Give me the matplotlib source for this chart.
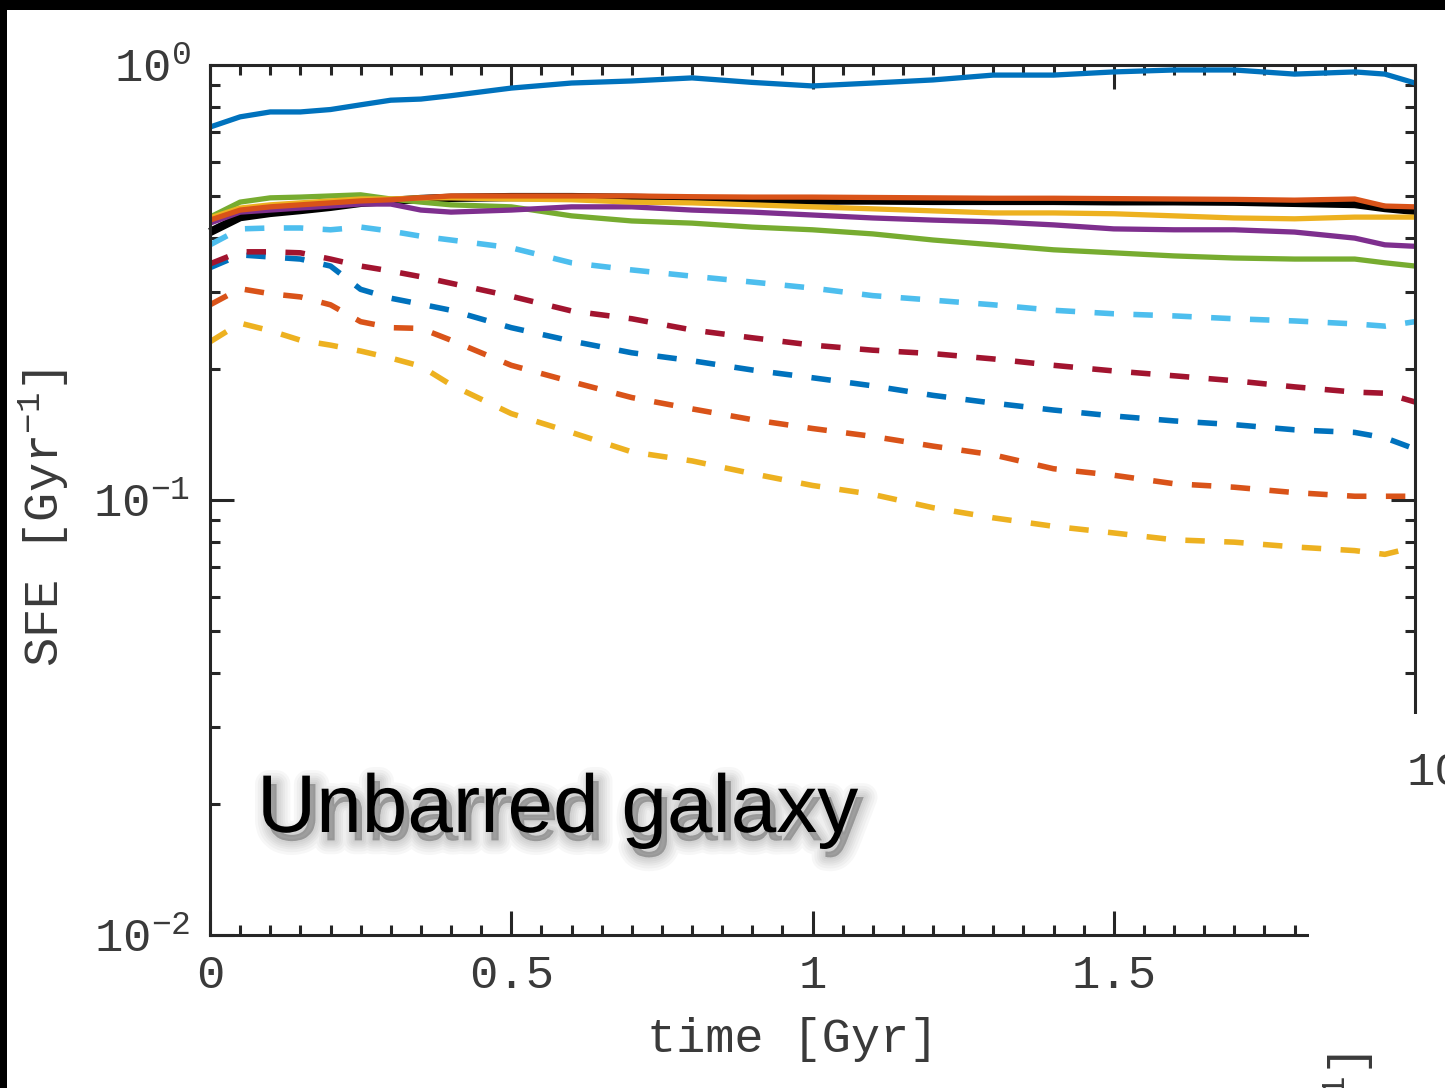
import matplotlib
matplotlib.use("Agg")
import matplotlib.pyplot as plt
import matplotlib.patheffects as pe
from matplotlib.patches import Rectangle
from matplotlib.ticker import MultipleLocator, LogLocator, NullFormatter

plt.rcParams['font.family'] = ['Liberation Mono', 'DejaVu Sans Mono']
plt.rcParams['mathtext.fontset'] = 'custom'
plt.rcParams['mathtext.rm'] = 'Liberation Mono'
plt.rcParams['mathtext.it'] = 'Liberation Mono'
plt.rcParams['axes.unicode_minus'] = False

# time axis [Gyr]
t = [0, 0.05, 0.1, 0.15, 0.2, 0.25, 0.3, 0.35, 0.4, 0.5, 0.6, 0.7, 0.8,
     0.9, 1.0, 1.1, 1.2, 1.3, 1.4, 1.5, 1.6, 1.7, 1.8, 1.9, 1.95, 2.0]

# SFE [1/Gyr], solid curves
sfe_blue = [0.72, 0.76, 0.78, 0.78, 0.79, 0.81, 0.83, 0.835, 0.85, 0.885, 0.909, 0.919, 0.934,
            0.912, 0.895, 0.909, 0.924, 0.948, 0.948, 0.964, 0.974, 0.974, 0.953, 0.964, 0.953, 0.909]
sfe_black = [0.413, 0.447, 0.457, 0.464, 0.472, 0.482, 0.487, 0.492, 0.495, 0.497, 0.497, 0.495, 0.492,
             0.49, 0.488, 0.488, 0.487, 0.487, 0.487, 0.486, 0.486, 0.485, 0.482, 0.479, 0.469, 0.462]
sfe_orange = [0.44, 0.464, 0.472, 0.477, 0.482, 0.487, 0.49, 0.495, 0.50, 0.50, 0.50, 0.50, 0.498,
              0.497, 0.497, 0.496, 0.495, 0.494, 0.494, 0.493, 0.492, 0.491, 0.489, 0.492, 0.474, 0.472]
sfe_yellow = [0.445, 0.469, 0.477, 0.482, 0.487, 0.492, 0.492, 0.495, 0.495, 0.492, 0.49, 0.484, 0.482,
              0.477, 0.472, 0.467, 0.462, 0.457, 0.457, 0.455, 0.45, 0.445, 0.443, 0.447, 0.447, 0.447]
sfe_purple = [0.433, 0.459, 0.464, 0.469, 0.474, 0.479, 0.479, 0.464, 0.459, 0.464, 0.472, 0.472, 0.464,
              0.459, 0.452, 0.445, 0.44, 0.436, 0.429, 0.42, 0.418, 0.418, 0.413, 0.40, 0.386, 0.383]
sfe_green = [0.447, 0.484, 0.495, 0.497, 0.50, 0.503, 0.492, 0.484, 0.477, 0.472, 0.45, 0.438, 0.433,
             0.424, 0.418, 0.409, 0.396, 0.386, 0.376, 0.37, 0.364, 0.36, 0.358, 0.358, 0.351, 0.345]

# SFE [1/Gyr], dashed curves
sfe_cyan_d = [0.386, 0.42, 0.422, 0.422, 0.418, 0.424, 0.415, 0.404, 0.396, 0.38, 0.351, 0.338, 0.327,
              0.317, 0.307, 0.295, 0.288, 0.281, 0.273, 0.268, 0.265, 0.261, 0.258, 0.254, 0.251, 0.257]
sfe_red_d = [0.349, 0.372, 0.372, 0.37, 0.358, 0.345, 0.336, 0.326, 0.315, 0.294, 0.272, 0.261, 0.246,
             0.236, 0.227, 0.221, 0.217, 0.211, 0.204, 0.198, 0.193, 0.188, 0.182, 0.177, 0.176, 0.168]
sfe_blue_d = [0.342, 0.366, 0.362, 0.358, 0.345, 0.305, 0.291, 0.282, 0.273, 0.249, 0.232, 0.218, 0.209,
              0.199, 0.191, 0.183, 0.174, 0.167, 0.161, 0.156, 0.152, 0.149, 0.145, 0.143, 0.139, 0.131]
sfe_orange_d = [0.281, 0.306, 0.298, 0.293, 0.281, 0.257, 0.249, 0.248, 0.233, 0.204, 0.187, 0.172, 0.162,
                0.153, 0.146, 0.14, 0.133, 0.127, 0.118, 0.114, 0.109, 0.107, 0.104, 0.102, 0.102, 0.102]
sfe_yellow_d = [0.231, 0.255, 0.245, 0.233, 0.227, 0.22, 0.212, 0.203, 0.184, 0.158, 0.143, 0.129, 0.123,
                0.115, 0.108, 0.103, 0.096, 0.091, 0.087, 0.084, 0.081, 0.080, 0.078, 0.0765, 0.075, 0.078]

W, H = 1445, 1088
fig = plt.figure(figsize=(W / 100, H / 100), dpi=100)
fig.patch.set_facecolor('white')

def fx(px):
    return px / W

def fy(py):
    return 1 - py / H

ax = fig.add_axes([fx(210), fy(935), fx(1415) - fx(210), fy(65) - fy(935)])

axcol = '#262626'
txtcol = '#3a3a3a'

dash = (0, (3.5, 3.5))
for vals, col in [(sfe_yellow_d, '#EDB120'), (sfe_orange_d, '#D95319'), (sfe_blue_d, '#0072BD'),
                  (sfe_red_d, '#A2142F'), (sfe_cyan_d, '#4DBEEE')]:
    ax.plot(t, vals, color=col, lw=4.0, ls=dash, dash_capstyle='butt')

ax.plot(t, sfe_black, color='black', lw=6.0, clip_on=False, solid_capstyle='butt')
for vals, col in [(sfe_green, '#77AC30'), (sfe_purple, '#7E2F8E'), (sfe_yellow, '#EDB120'),
                  (sfe_orange, '#D95319'), (sfe_blue, '#0072BD')]:
    ax.plot(t, vals, color=col, lw=3.8)

ax.set_yscale('log')
ax.set_xlim(0, 2)
ax.set_ylim(0.01, 1)
ax.set_xticks([0, 0.5, 1, 1.5, 2])
ax.set_xticklabels(['0', '0.5', '1', '1.5', '2'])
ax.xaxis.set_minor_locator(MultipleLocator(0.05))
ax.yaxis.set_major_locator(LogLocator(base=10, numticks=5))
ax.yaxis.set_minor_locator(LogLocator(base=10, subs=range(2, 10), numticks=20))
ax.yaxis.set_minor_formatter(NullFormatter())

ax.tick_params(which='both', direction='in', top=True, right=True,
               color=axcol, width=2.2, labelcolor=txtcol, labelsize=34)
ax.tick_params(which='major', length=17)
ax.tick_params(which='minor', length=7.5)
ax.tick_params(axis='x', pad=14)
ax.tick_params(axis='y', pad=14)
for s in ax.spines.values():
    s.set_linewidth(2.2)
    s.set_color(axcol)

fig.text(fx(793), fy(1040), 'time [Gyr]', ha='center', va='center',
         fontsize=35, color=txtcol)
fig.text(fx(44), fy(518), 'SFE [Gyr$^{-1}$]', ha='center', va='center',
         rotation=90, fontsize=35, color=txtcol)

# caption with soft drop shadow
shadow = [pe.Stroke(linewidth=w, foreground='black', alpha=0.03, offset=(4, -6))
          for w in (20, 16, 12, 9, 6, 3)]
shadow.append(pe.SimplePatchShadow(offset=(4, -6), shadow_rgbFace='black', alpha=0.1))
shadow.append(pe.Normal())
fig.text(fx(257), fy(832), 'Unbarred galaxy', ha='left', va='baseline',
         fontsize=59, color='black', family=['Liberation Sans', 'DejaVu Sans'],
         path_effects=shadow)

# neighbouring panel overlaps the lower right corner
fig.add_artist(Rectangle((fx(1309), 0), 1 - fx(1309), fy(714), transform=fig.transFigure,
                         facecolor='white', edgecolor='none', zorder=5))
fig.text(fx(1407), fy(773), '10', ha='left', va='center', fontsize=34,
         color=txtcol, zorder=6)
fig.text(fx(1349), fy(1054), 'SFE [Gyr$^{-1}$]', ha='center', va='top',
         rotation=90, fontsize=35, color=txtcol, zorder=6)

# dark frame edges
fig.add_artist(Rectangle((0, fy(10)), 1, 1 - fy(10), transform=fig.transFigure,
                         facecolor='black', edgecolor='none', zorder=7))
fig.add_artist(Rectangle((0, 0), fx(7), 1, transform=fig.transFigure,
                         facecolor='black', edgecolor='none', zorder=7))

fig.savefig('out.png', dpi=100, facecolor='white')
